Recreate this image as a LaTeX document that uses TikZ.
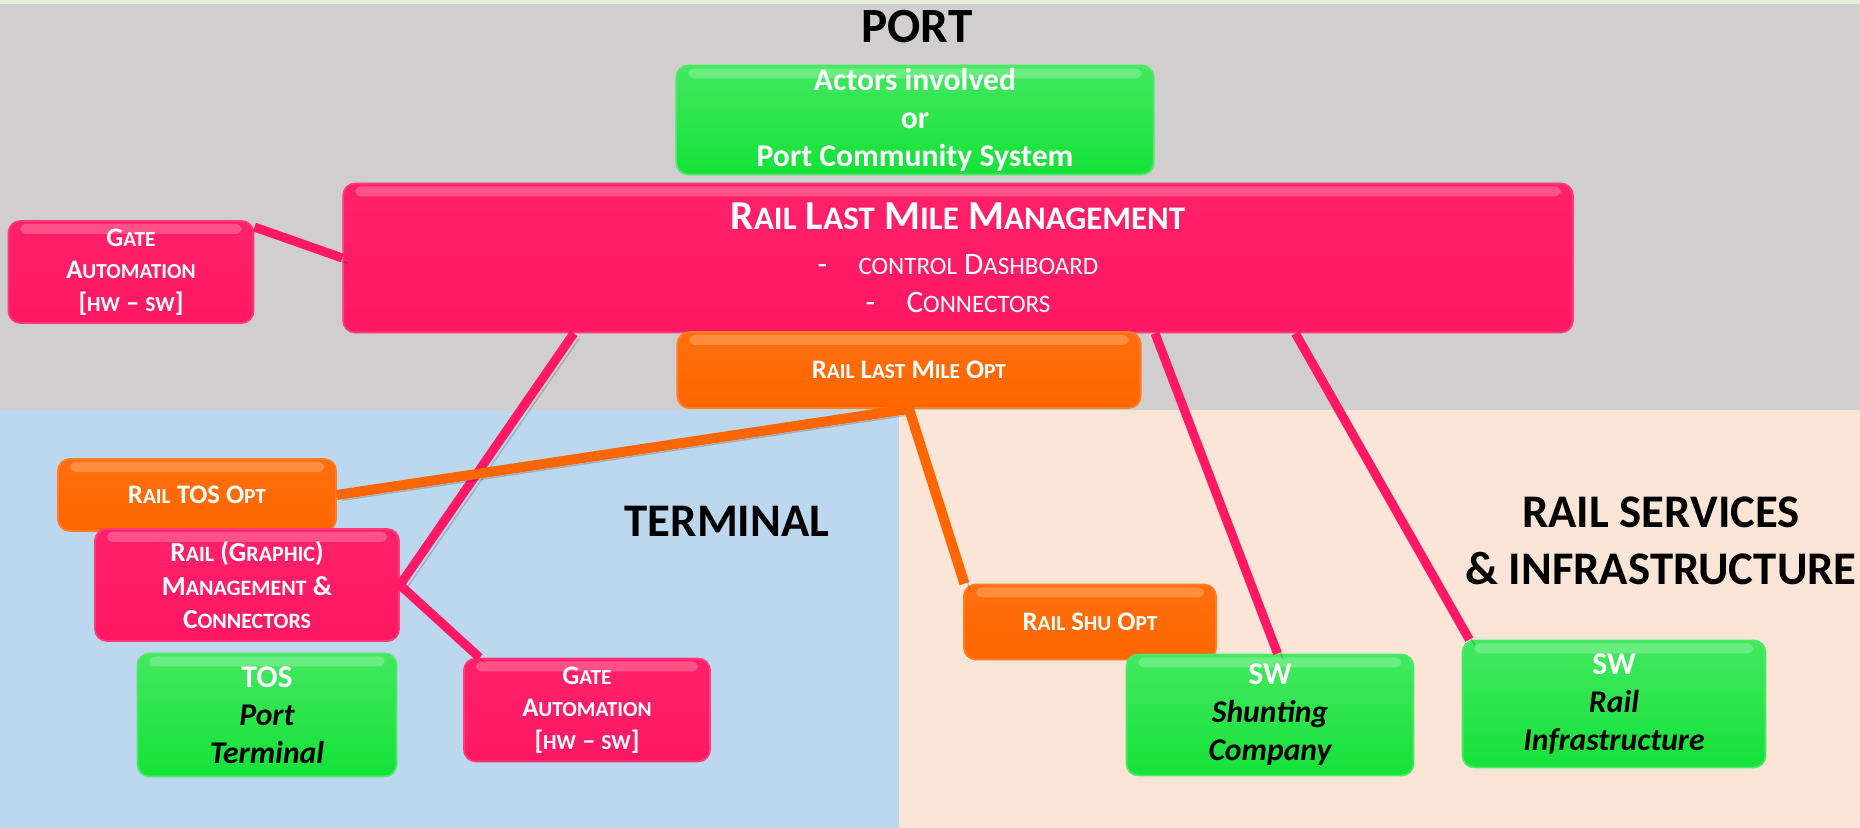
\documentclass[tikz,border=0pt]{standalone}
\usepackage{fontspec}
\setmainfont{Carlito}
\usetikzlibrary{positioning,calc}
\definecolor{portgray}{RGB}{208,206,206}
\definecolor{termblue}{RGB}{189,215,238}
\definecolor{railpeach}{RGB}{251,229,214}
\definecolor{toppale}{RGB}{226,239,218}
\definecolor{boxpink}{RGB}{255,24,100}
\definecolor{boxorange}{RGB}{255,102,0}
\definecolor{boxgreen}{RGB}{20,226,56}
\makeatletter
\newcommand\lc[1]{{\fontsize{\fpeval{0.8*\f@size}}{\f@baselineskip}\selectfont\MakeUppercase{#1}}}
\makeatother

\begin{document}
\begin{tikzpicture}[x=0.01cm,y=-0.01cm,
  box/.style={rounded corners=0.12cm,text=white,align=center,inner sep=0pt,
    path picture={\fill[white,opacity=0.22,rounded corners=0.06cm]
      ($(path picture bounding box.north west)+(0.12cm,-0.03cm)$) rectangle
      ($(path picture bounding box.north east)+(-0.12cm,-0.13cm)$);}},
  pinkbox/.style={box,top color=boxpink!96!white,bottom color=boxpink,draw=boxpink!85!white,line width=0.5pt},
  orangebox/.style={box,top color=boxorange!94!white,bottom color=boxorange,draw=boxorange!85!white,line width=0.5pt},
  greenbox/.style={box,top color=boxgreen!80!white,bottom color=boxgreen,draw=boxgreen!75!white,line width=0.5pt,
    font=\fontsize{9}{10.8}\selectfont\bfseries},
  smallbox/.style={font=\fontsize{7.6}{9.2}\selectfont\bfseries},
  region/.style={font=\fontsize{13.3}{16.2}\selectfont\bfseries,align=center},
  shade/.style={preaction={draw=black,opacity=0.18,transform canvas={shift={(1.5pt,-1.5pt)}}}},
  pinkline/.style={shade,draw=boxpink,line width=0.09cm},
  orangeline/.style={shade,draw=boxorange,line width=0.1cm}]
  \clip (0,0) rectangle (1860,828);
  \useasboundingbox (0,0) rectangle (1860,828);
  \fill[portgray] (0,0) rectangle (1860,410);
  \fill[toppale] (0,0) rectangle (1860,4);
  \fill[termblue] (0,410) rectangle (899,828);
  \fill[railpeach] (899,410) rectangle (1860,828);

  \node[region,font=\fontsize{14}{17}\selectfont\bfseries] (port) at (917,27) {PORT};
  \node[region] (terminal) at (727,521) {TERMINAL};
  \node[region] (rail) at (1661,541) {RAIL SERVICES\\\& INFRASTRUCTURE};

  \node[greenbox,minimum width=4.77cm,minimum height=1.09cm] (actors) at (915,120)
    {Actors involved\\or\\Port Community System};
  \node[pinkbox,minimum width=12.29cm,minimum height=1.49cm,font=\fontsize{8.9}{10.8}\selectfont] (rlmm) at (958,258)
    {{\fontsize{11.7}{13}\selectfont\bfseries R\lc{ail} L\lc{ast} M\lc{ile} M\lc{anagement}}\\[2pt]
     -\hspace{1em}\lc{control} D\lc{ashboard}\\
     -\hspace{1em}C\lc{onnectors}};
  \node[pinkbox,smallbox,minimum width=2.45cm,minimum height=1.02cm] (gateA) at (131,272)
    {G\lc{ate}\\A\lc{utomation}\\{[}\lc{hw} -- \lc{sw}]};
  \node[orangebox,smallbox,minimum width=4.63cm,minimum height=0.76cm] (lmo) at (909,370)
    {R\lc{ail} L\lc{ast} M\lc{ile} O\lc{pt}};
  \node[orangebox,smallbox,minimum width=2.78cm,minimum height=0.72cm] (tosopt) at (197,495)
    {R\lc{ail} TOS O\lc{pt}};
  \node[pinkbox,smallbox,font=\fontsize{7.8}{9.5}\selectfont\bfseries,minimum width=3.04cm,minimum height=1.12cm] (railmgmt) at (247,585)
    {R\lc{ail} (G\lc{raphic})\\M\lc{anagement} \&\\C\lc{onnectors}};
  \node[greenbox,minimum width=2.59cm,minimum height=1.23cm] (tos) at (267,715)
    {TOS\\\textcolor{black}{\itshape Port}\\\textcolor{black}{\itshape Terminal}};
  \node[pinkbox,smallbox,minimum width=2.46cm,minimum height=1.03cm] (gateB) at (587,710)
    {G\lc{ate}\\A\lc{utomation}\\{[}\lc{hw} -- \lc{sw}]};
  \node[orangebox,smallbox,minimum width=2.52cm,minimum height=0.75cm] (shuopt) at (1090,622)
    {R\lc{ail} S\lc{hu} O\lc{pt}};
  \node[greenbox,minimum width=2.87cm,minimum height=1.21cm] (swshunt) at (1270,715)
    {SW\\\textcolor{black}{\itshape Shunting}\\\textcolor{black}{\itshape Company}};
  \node[greenbox,minimum width=3.03cm,minimum height=1.27cm] (swrail) at (1614,704)
    {SW\\\textcolor{black}{\itshape Rail}\\\textcolor{black}{\itshape Infrastructure}};

  \draw[pinkline] (gateA.20) -- (rlmm.west);
  \draw[pinkline] ($(rlmm.south west)!0.188!(rlmm.south east)$) -- (railmgmt.east) -- (gateB.154);
  \draw[pinkline] ($(rlmm.south west)!0.66!(rlmm.south east)$) -- (swshunt.83);
  \draw[pinkline] ($(rlmm.south west)!0.774!(rlmm.south east)$) -- (swrail.156);
  \draw[orangeline] (tosopt.east) -- (lmo.south) -- (shuopt.163);
\end{tikzpicture}
\end{document}
